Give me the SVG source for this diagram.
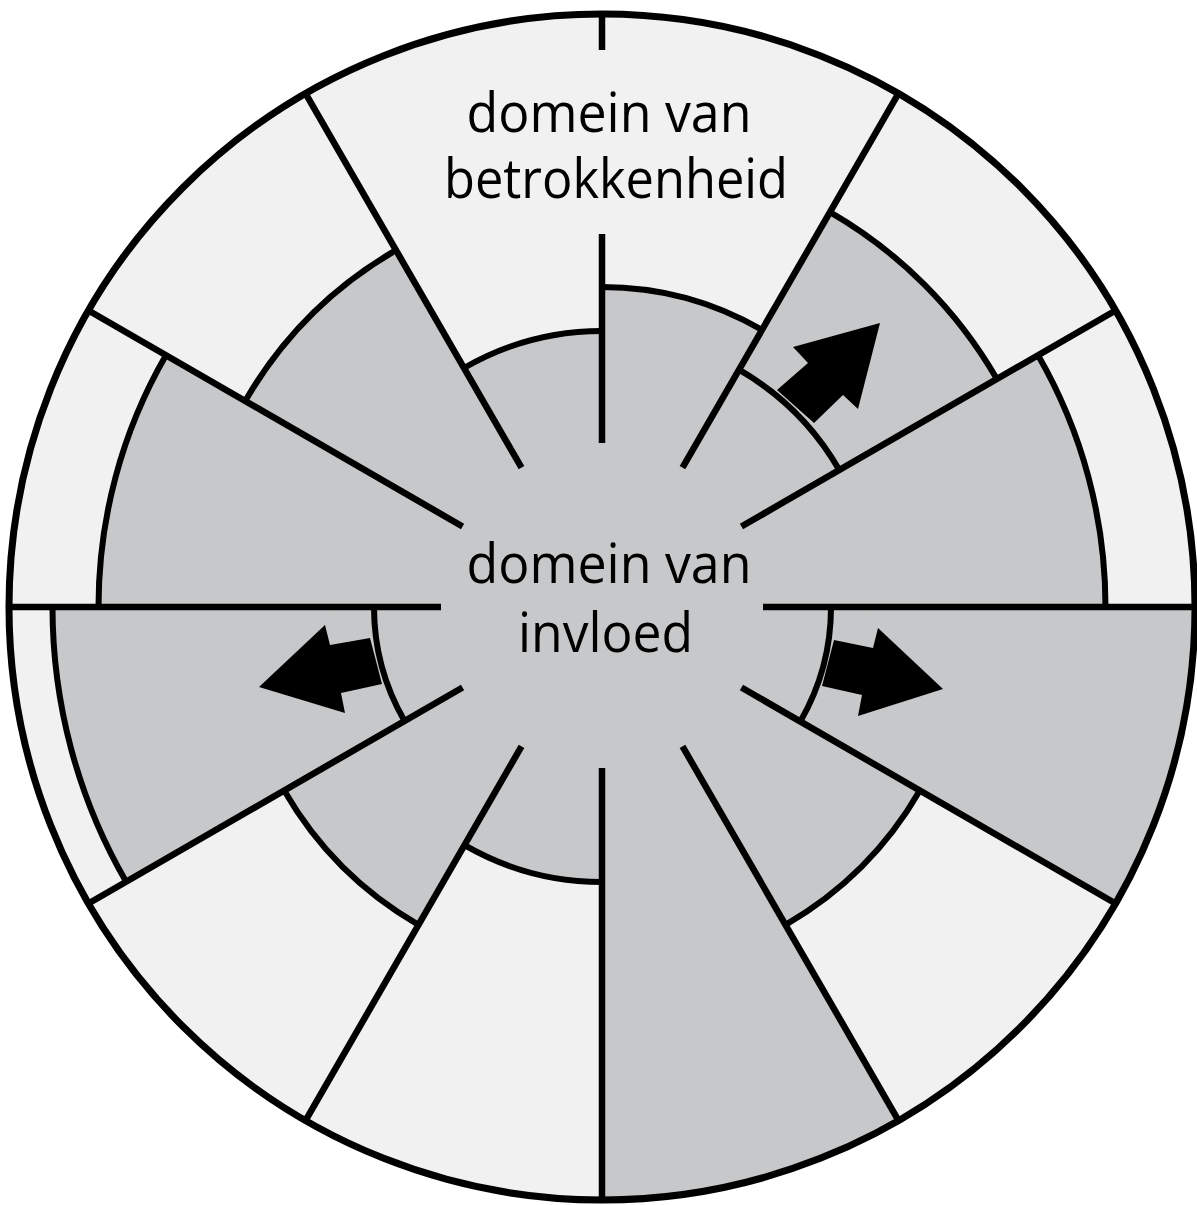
<svg xmlns="http://www.w3.org/2000/svg" width="1197" height="1205" viewBox="0 0 1197 1205">
<style>
.light{fill:#f1f1f1}
.grey{fill:#c7c8ca}
.ln{stroke:#000;stroke-width:6.5;fill:none;stroke-linecap:butt}
.arc{stroke:#000;stroke-width:6;fill:none}
.arr{fill:#000}
.lbl{font-family:"Open Sans","Liberation Sans",sans-serif;font-size:54px;fill:#000;text-anchor:middle}
</style>
<rect width="1197" height="1205" fill="#ffffff"/>
<g id="background">
<circle class="light" cx="602" cy="607" r="593"/>
</g>
<g id="sectors">
<path id="s60" class="grey" d="M602,607 L762,329.87 A320,320 0 0,0 602,287 Z"/>
<path id="s90" class="grey" d="M602,607 L602,331 A276,276 0 0,0 464,367.98 Z"/>
<path id="s120" class="grey" d="M602,607 L396,250.2 A412,412 0 0,0 245.2,401 Z"/>
<path id="s150" class="grey" d="M602,607 L165.96,355.25 A503.5,503.5 0 0,0 98.5,607 Z"/>
<path id="s180" class="grey" d="M602,607 L52.5,607 A549.5,549.5 0 0,0 126.12,881.75 Z"/>
<path id="s210" class="grey" d="M602,607 L284.17,790.5 A367,367 0 0,0 418.5,924.83 Z"/>
<path id="s240" class="grey" d="M602,607 L464.5,845.16 A275,275 0 0,0 602,882 Z"/>
<path id="s270" class="grey" d="M602,607 L602,1200 A593,593 0 0,0 898.5,1120.55 Z"/>
<path id="s300" class="grey" d="M602,607 L785.5,924.83 A367,367 0 0,0 919.83,790.5 Z"/>
<path id="s330" class="grey" d="M602,607 L1115.55,903.5 A593,593 0 0,0 1195,607 Z"/>
<path id="s0" class="grey" d="M602,607 L1105.5,607 A503.5,503.5 0 0,0 1038.04,355.25 Z"/>
<path id="s30" class="grey" d="M602,607 L996.91,379 A456,456 0 0,0 830,212.09 Z"/>
<circle id="core" class="grey" cx="602" cy="607" r="270"/>
</g>
<g id="arcs">
<path class="arc" d="M762,329.87 A320,320 0 0,0 602,287"/>
<path class="arc" d="M602,331 A276,276 0 0,0 464,367.98"/>
<path class="arc" d="M396,250.2 A412,412 0 0,0 245.2,401"/>
<path class="arc" d="M165.96,355.25 A503.5,503.5 0 0,0 98.5,607"/>
<path class="arc" d="M52.5,607 A549.5,549.5 0 0,0 126.12,881.75"/>
<path class="arc" d="M284.17,790.5 A367,367 0 0,0 418.5,924.83"/>
<path class="arc" d="M464.5,845.16 A275,275 0 0,0 602,882"/>
<path class="arc" d="M785.5,924.83 A367,367 0 0,0 919.83,790.5"/>
<path class="arc" d="M1105.5,607 A503.5,503.5 0 0,0 1038.04,355.25"/>
<path class="arc" d="M996.91,379 A456,456 0 0,0 830,212.09"/>
<path class="arc" stroke-width="5.5" d="M374,607 A228,228 0 0,0 404.55,721"/>
<path class="arc" stroke-width="5.5" d="M800.32,721.5 A229,229 0 0,0 831,607"/>
<path class="arc" stroke-width="5.5" d="M839.29,470 A274,274 0 0,0 739,369.71"/>
</g>
<g id="connectors">
<line class="ln" x1="763" y1="607" x2="1197" y2="607"/>
<line class="ln" x1="741.43" y1="526.5" x2="1115.55" y2="310.5"/>
<line class="ln" x1="682.5" y1="467.57" x2="898.5" y2="93.45"/>
<line class="ln" x1="602" y1="443" x2="602" y2="234"/>
<line class="ln" x1="602" y1="50" x2="602" y2="12"/>
<line class="ln" x1="521.5" y1="467.57" x2="305.5" y2="93.45"/>
<line class="ln" x1="462.57" y1="526.5" x2="88.45" y2="310.5"/>
<line class="ln" x1="441" y1="607" x2="9" y2="607"/>
<line class="ln" x1="462.57" y1="687.5" x2="88.45" y2="903.5"/>
<line class="ln" x1="521.5" y1="746.43" x2="305.5" y2="1120.55"/>
<line class="ln" x1="602" y1="768" x2="602" y2="1200"/>
<line class="ln" x1="682.5" y1="746.43" x2="898.5" y2="1120.55"/>
<line class="ln" x1="741.43" y1="687.5" x2="1115.55" y2="903.5"/>
<circle cx="602" cy="607" r="593" fill="none" stroke="#000" stroke-width="7"/>
</g>
<g id="arrows">
<polygon id="arrow-up-right" class="arr" points="880,323 858,409 843,395 814,423 777,390 808,363 793,347"/>
<polygon id="arrow-left" class="arr" points="259,687 345,713 341,693 382,684 370,638 330,645 325,625"/>
<polygon id="arrow-right" class="arr" points="943,689 878,628 873,648 834,640 822,686 862,695 858,716"/>
</g>
<g id="label-betrokkenheid">
<text class="lbl" x="609" y="131.5" textLength="285" lengthAdjust="spacingAndGlyphs">domein van</text>
<text class="lbl" x="616" y="198" textLength="344" lengthAdjust="spacingAndGlyphs">betrokkenheid</text>
</g>
<g id="label-invloed">
<text class="lbl" x="609" y="583" textLength="285" lengthAdjust="spacingAndGlyphs">domein van</text>
<text class="lbl" x="605.5" y="651.5" textLength="175" lengthAdjust="spacingAndGlyphs">invloed</text>
</g>
</svg>
